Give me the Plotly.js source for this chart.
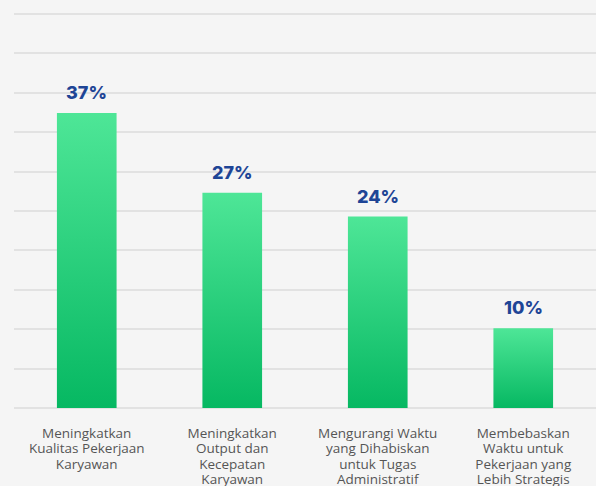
<!DOCTYPE html>
<html>
<head>
<meta charset="utf-8">
<script src="https://cdn.plot.ly/plotly-3.0.1.min.js"></script>
<style>
html,body{margin:0;padding:0;background:#f5f5f5;overflow:hidden;}
#chart{width:596px;height:486px;}
</style>
</head>
<body>
<div id="chart"></div>
<script>
const categories = [
  "Meningkatkan<br>Kualitas Pekerjaan<br>Karyawan",
  "Meningkatkan<br>Output dan<br>Kecepatan<br>Karyawan",
  "Mengurangi Waktu<br>yang Dihabiskan<br>untuk Tugas<br>Administratif",
  "Membebaskan<br>Waktu untuk<br>Pekerjaan yang<br>Lebih Strategis"
];
const values = [37, 27, 24, 10];
const valueLabels = values.map(v => v + "%");

const trace = {
  type: "bar",
  x: categories,
  y: values,
  width: 0.41,
  marker: {color: "#2bd07e", line: {width: 0}},
  hoverinfo: "none"
};

const annotations = categories.map((c, i) => ({
  x: c, y: values[i], xref: "x", yref: "y",
  text: valueLabels[i], showarrow: false,
  yanchor: "bottom", yshift: 8,
  font: {family: "Inter, 'Open Sans', sans-serif", size: 18, weight: 800, color: "#1e4596"}
}));

const layout = {
  width: 596, height: 486,
  margin: {l: 14, r: 0, t: 13, b: 78},
  paper_bgcolor: "#f5f5f5",
  plot_bgcolor: "#f5f5f5",
  showlegend: false,
  xaxis: {
    type: "category",
    showgrid: false, zeroline: false, showline: false,
    ticks: "", ticklabelstandoff: 15,
    tickfont: {family: "'Open Sans', sans-serif", size: 13.5, color: "#555555"}
  },
  yaxis: {
    range: [0, 49.53], tick0: 0, dtick: 4.94,
    showticklabels: false, ticks: "",
    showgrid: true, gridcolor: "#e2e2e2", gridwidth: 2,
    zeroline: true, zerolinecolor: "#e2e2e2", zerolinewidth: 2,
    showline: false, fixedrange: true
  },
  annotations: annotations
};

Plotly.newPlot("chart", [trace], layout, {staticPlot: true, displayModeBar: false}).then(gd => {
  const svg = gd.querySelector("svg.main-svg");
  const ns = "http://www.w3.org/2000/svg";
  let defs = svg.querySelector("defs");
  if (!defs) { defs = document.createElementNS(ns, "defs"); svg.insertBefore(defs, svg.firstChild); }
  const grad = document.createElementNS(ns, "linearGradient");
  grad.setAttribute("id", "barGrad");
  grad.setAttribute("x1", "0"); grad.setAttribute("y1", "0");
  grad.setAttribute("x2", "0"); grad.setAttribute("y2", "1");
  [["0%", "#4ee697"], ["100%", "#06b862"]].forEach(([o, c]) => {
    const s = document.createElementNS(ns, "stop");
    s.setAttribute("offset", o); s.setAttribute("stop-color", c);
    grad.appendChild(s);
  });
  defs.appendChild(grad);
  gd.querySelectorAll(".bars .point path").forEach(p => { p.style.fill = "url(#barGrad)"; });
  // tighter line spacing for category labels
  gd.querySelectorAll(".xtick text tspan.line").forEach(t => {
    const dy = t.getAttribute("dy");
    if (dy && dy.indexOf("em") > 0) {
      const n = parseFloat(dy) / 1.3;
      t.setAttribute("dy", (n * 1.16).toFixed(3) + "em");
    }
  });
});
</script>
</body>
</html>
